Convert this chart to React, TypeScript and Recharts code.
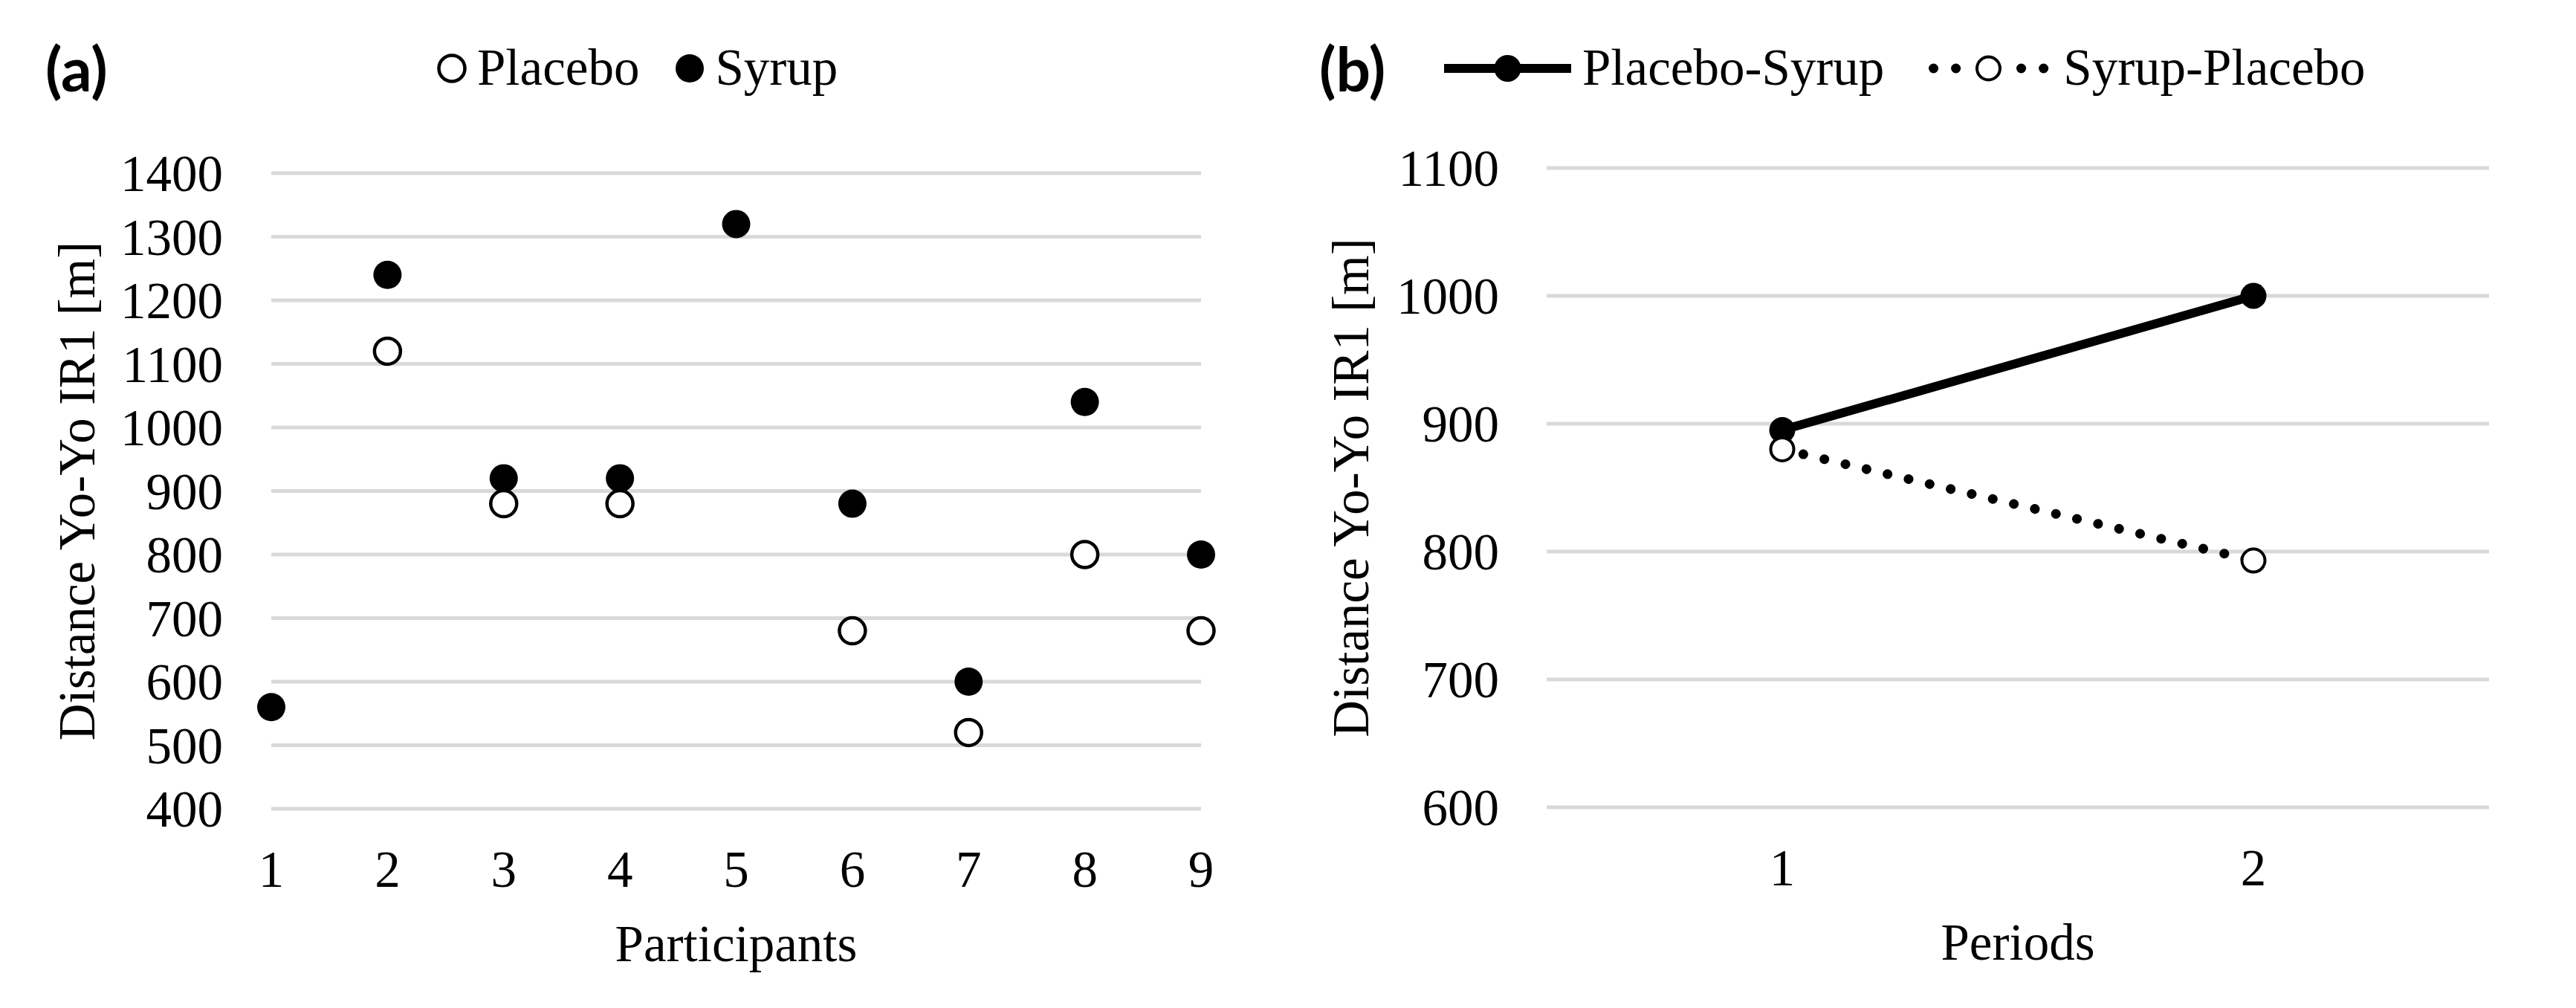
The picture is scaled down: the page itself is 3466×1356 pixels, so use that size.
import React from "react"
import { ScatterChart, Scatter, LineChart, Line, XAxis, YAxis, CartesianGrid, Legend } from "recharts"

// (a) individual results
const participants = [1, 2, 3, 4, 5, 6, 7, 8, 9]
const syrup = [560, 1240, 920, 920, 1320, 880, 600, 1040, 800]
const placebo = [null, 1120, 880, 880, null, 680, 520, 800, 680]
const distanceTicksA = [400, 500, 600, 700, 800, 900, 1000, 1100, 1200, 1300, 1400]

// (b) period means
const periods = [1, 2]
const placeboSyrup = [895, 1000]
const syrupPlacebo = [880, 793]
const distanceTicksB = [600, 700, 800, 900, 1000, 1100]

const SERIF = '"Liberation Serif", "Times New Roman", serif'
const FS = 69
const GRID = "#d9d9d9"

const syrupData = participants.map((p, i) => ({ participant: p, distance: syrup[i] }))
const placeboData = participants
  .map((p, i) => ({ participant: p, distance: placebo[i] }))
  .filter((d) => d.distance != null)

const periodData = periods.map((p, i) => ({
  period: p,
  placeboSyrup: placeboSyrup[i],
  syrupPlacebo: syrupPlacebo[i],
}))

const tickStyle = { fontSize: FS, fill: "#000", fontFamily: SERIF }

const FilledDot = (r: number) => (p: any) =>
  p.cx == null ? <g key={p.index} /> : <circle key={p.index} cx={p.cx} cy={p.cy} r={r} fill="#000" />

const OpenDot = (r: number, w: number) => (p: any) =>
  p.cx == null ? <g key={p.index} /> : (
    <circle key={p.index} cx={p.cx} cy={p.cy} r={r} fill="#fff" stroke="#000" strokeWidth={w} />
  )

const textStyle: React.CSSProperties = { fontFamily: SERIF, fontSize: FS, lineHeight: 1, color: "#000", whiteSpace: "nowrap" }

function ScatterLegend({ payload }: any) {
  const order = ["Placebo", "Syrup"]
  const items = [...(payload || [])].sort((a, b) => order.indexOf(a.value) - order.indexOf(b.value))
  return (
    <div style={{ display: "flex", alignItems: "center", height: FS }}>
      {items.map((it: any, i: number) => (
        <div key={it.value} style={{ display: "flex", alignItems: "center", marginLeft: i ? 48 : 0 }}>
          <svg width={40} height={40}>
            {it.value === "Syrup" ? (
              <circle cx={20} cy={20} r={19} fill="#000" />
            ) : (
              <circle cx={20} cy={20} r={17.5} fill="#fff" stroke="#000" strokeWidth={4.5} />
            )}
          </svg>
          <span style={{ ...textStyle, marginLeft: 14 }}>{it.value}</span>
        </div>
      ))}
    </div>
  )
}

function LineLegend({ payload }: any) {
  return (
    <div style={{ display: "flex", alignItems: "center", height: FS }}>
      {(payload || []).map((it: any, i: number) => (
        <div key={it.value} style={{ display: "flex", alignItems: "center", marginLeft: i ? 55 : 0 }}>
          <svg width={171} height={42}>
            {it.dataKey === "placeboSyrup" ? (
              <>
                <line x1={0} y1={21} x2={171} y2={21} stroke="#000" strokeWidth={12} />
                <circle cx={85.5} cy={21} r={18} fill="#000" />
              </>
            ) : (
              <>
                <line x1={11.5} y1={21} x2={42} y2={21} stroke="#000" strokeWidth={13} strokeDasharray="0.1 30" strokeLinecap="round" />
                <line x1={129.5} y1={21} x2={160} y2={21} stroke="#000" strokeWidth={13} strokeDasharray="0.1 30" strokeLinecap="round" />
                <circle cx={85.5} cy={21} r={15.5} fill="#fff" stroke="#000" strokeWidth={4} />
              </>
            )}
          </svg>
          <span style={{ ...textStyle, marginLeft: 15 }}>{it.value}</span>
        </div>
      ))}
    </div>
  )
}

const panelTag: React.CSSProperties = {
  position: "absolute",
  top: 50,
  fontFamily: "Lato, 'Open Sans', sans-serif",
  fontWeight: 700,
  fontSize: 82,
  lineHeight: 1,
  color: "#000",
}

export default function App() {
  return (
    <div style={{ position: "relative", width: 3466, height: 1356, background: "#fff" }}>
      <style>{`body{margin:0}`}</style>

      <div style={{ position: "absolute", left: 0, top: 0 }}>
        <ScatterChart width={1733} height={1356} margin={{ top: 233, right: 117, bottom: 58, left: 65 }}>
          <CartesianGrid vertical={false} stroke={GRID} strokeWidth={5} />
          <XAxis
            type="number"
            dataKey="participant"
            domain={[1, 9]}
            ticks={participants}
            interval={0}
            axisLine={false}
            tickLine={false}
            tickSize={6}
            tickMargin={50}
            height={210}
            tick={tickStyle}
            label={{ value: "Participants", position: "insideBottom", offset: 5, fontSize: FS, fill: "#000", style: { fontFamily: SERIF } }}
          />
          <YAxis
            type="number"
            dataKey="distance"
            domain={[400, 1400]}
            ticks={distanceTicksA}
            interval={0}
            axisLine={false}
            tickLine={false}
            tickSize={6}
            tickMargin={59}
            width={300}
            tick={tickStyle}
            label={{
              value: "Distance Yo-Yo IR1 [m]",
              angle: -90,
              position: "insideLeft",
              offset: 38,
              fontSize: FS,
              fill: "#000",
              style: { fontFamily: SERIF, textAnchor: "middle" },
            }}
          />
          <Legend
            layout="horizontal"
            verticalAlign="middle"
            align="center"
            wrapperStyle={{ top: 57, left: 588, width: "auto" }}
            content={(props: any) => <ScatterLegend payload={props.payload} />}
          />
          <Scatter name="Syrup" data={syrupData} fill="#000" shape={FilledDot(19)} isAnimationActive={false} />
          <Scatter name="Placebo" data={placeboData} fill="#fff" shape={OpenDot(17.5, 4.5)} isAnimationActive={false} />
        </ScatterChart>
      </div>

      <div style={{ position: "absolute", left: 1733, top: 0 }}>
        <LineChart width={1733} height={1356} data={periodData} margin={{ top: 226, right: 117, bottom: 60, left: 48 }}>
          <CartesianGrid vertical={false} stroke={GRID} strokeWidth={5} />
          <XAxis
            type="number"
            dataKey="period"
            domain={[0.5, 2.5]}
            ticks={periods}
            interval={0}
            axisLine={false}
            tickLine={false}
            tickSize={6}
            tickMargin={50}
            height={210}
            tick={tickStyle}
            label={{ value: "Periods", position: "insideBottom", offset: 5, fontSize: FS, fill: "#000", style: { fontFamily: SERIF } }}
          />
          <YAxis
            type="number"
            domain={[600, 1100]}
            ticks={distanceTicksB}
            interval={0}
            axisLine={false}
            tickLine={false}
            tickSize={6}
            tickMargin={58}
            width={300}
            tick={tickStyle}
            label={{
              value: "Distance Yo-Yo IR1 [m]",
              angle: -90,
              position: "insideLeft",
              offset: 36,
              fontSize: FS,
              fill: "#000",
              style: { fontFamily: SERIF, textAnchor: "middle" },
            }}
          />
          <Legend
            layout="horizontal"
            verticalAlign="middle"
            align="center"
            wrapperStyle={{ top: 57, left: 210, width: "auto" }}
            content={(props: any) => <LineLegend payload={props.payload} />}
          />
          <Line
            name="Placebo-Syrup"
            dataKey="placeboSyrup"
            stroke="#000"
            strokeWidth={12}
            dot={FilledDot(17.5)}
            activeDot={false}
            isAnimationActive={false}
          />
          <Line
            name="Syrup-Placebo"
            dataKey="syrupPlacebo"
            stroke="#000"
            strokeWidth={13}
            strokeDasharray="0.1 29"
            strokeLinecap="round"
            dot={OpenDot(15.5, 4)}
            activeDot={false}
            isAnimationActive={false}
          />
        </LineChart>
      </div>

      <div style={{ ...panelTag, left: 61 }}>(a)</div>
      <div style={{ ...panelTag, left: 1775 }}>(b)</div>
    </div>
  )
}
